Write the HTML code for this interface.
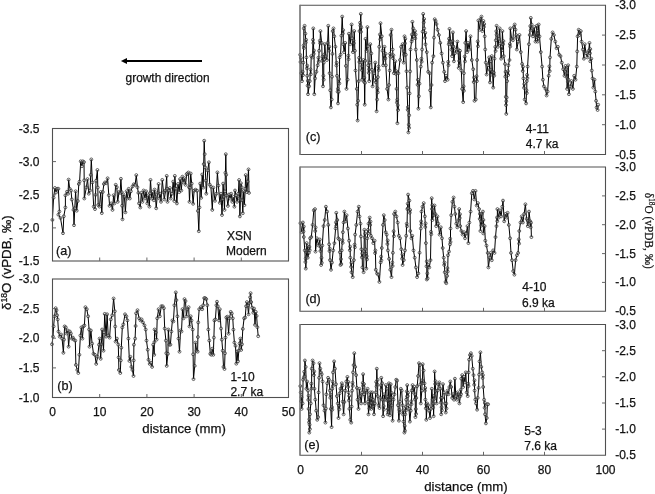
<!DOCTYPE html>
<html><head><meta charset="utf-8"><style>
html,body{margin:0;padding:0;background:#fff;width:655px;height:494px;overflow:hidden}
svg{display:block;will-change:transform;font-family:"Liberation Sans",sans-serif;fill:#1a1a1a}
text{fill:#111;stroke:#111;stroke-width:0.25px}
</style></head><body>
<svg width="655" height="494" viewBox="0 0 655 494">
<defs><marker id="m" markerUnits="userSpaceOnUse" markerWidth="5" markerHeight="5" refX="2.5" refY="2.5" overflow="visible"><circle cx="2.5" cy="2.5" r="1.45" fill="#fff" fill-opacity="0.25" stroke="#222" stroke-width="0.7"/></marker></defs>
<polyline points="52.4,219.9 53.6,197.7 54.9,188.0 56.1,192.4 57.3,188.8 58.4,188.8 59.4,211.5 58.4,214.7 60.5,218.0 63.0,233.2 63.8,216.3 65.4,207.4 65.4,195.3 67.0,191.7 68.1,193.7 68.6,179.6 69.7,188.8 71.0,190.5 71.8,199.4 73.5,209.9 74.0,225.2 74.8,208.2 75.6,191.3 76.7,210.7 77.8,201.0 78.8,184.0 79.6,181.6 80.7,161.3 81.9,166.2 82.8,161.3 84.0,162.1 84.2,180.3 84.3,198.5 86.4,187.2 87.5,179.1 88.8,193.7 90.1,190.5 90.7,174.9 91.3,159.4 92.4,182.4 93.7,206.6 95.0,209.1 95.5,194.9 96.1,180.7 97.4,170.0 97.8,187.5 98.2,205.0 99.5,206.6 100.7,192.0 101.8,213.1 102.8,192.0 103.9,184.0 105.0,182.4 106.3,183.2 107.6,178.3 108.8,195.3 109.6,205.8 111.2,203.4 112.5,209.9 113.6,195.3 114.4,203.4 115.7,184.8 116.8,187.2 117.7,201.8 119.0,192.1 120.1,192.9 120.9,178.8 121.7,192.1 122.1,205.7 122.5,219.3 123.3,194.5 124.4,196.9 125.4,212.3 126.6,191.3 127.4,198.5 128.7,188.8 129.8,198.5 130.9,191.3 132.5,186.4 133.8,184.3 135.1,184.8 136.3,175.1 137.4,187.2 138.4,192.9 139.0,203.4 140.3,207.5 141.3,192.9 142.4,201.8 143.6,190.5 144.9,198.5 146.1,191.3 147.3,203.4 148.4,195.3 149.4,206.6 149.9,193.2 150.5,179.9 151.7,198.5 152.6,192.1 153.8,200.2 154.6,189.6 155.5,196.9 156.2,208.3 157.5,192.9 158.6,184.0 159.4,198.5 160.2,193.7 161.0,201.8 162.3,179.9 163.5,192.1 164.3,199.4 165.6,190.5 166.7,175.9 167.1,188.9 167.5,201.8 168.8,190.5 169.9,188.0 170.7,198.5 172.0,193.7 173.2,181.6 174.3,201.0 174.6,188.4 174.8,175.9 175.9,188.8 176.9,203.4 178.0,184.0 179.2,192.1 180.1,179.1 181.3,190.5 182.4,176.7 183.4,182.4 184.5,178.3 185.6,184.8 186.6,174.3 187.4,173.5 188.5,172.5 189.0,187.2 189.5,201.8 190.1,187.7 190.7,173.5 191.7,183.6 193.1,203.8 194.1,190.7 195.5,189.7 197.1,190.7 197.9,210.9 198.8,231.2 199.5,207.4 200.2,183.6 201.2,197.8 202.2,174.5 203.2,187.6 203.7,164.1 204.2,140.7 204.7,154.1 205.2,167.4 205.8,180.6 206.3,193.7 207.7,170.4 208.9,162.3 209.7,184.6 210.9,186.6 212.3,209.9 213.3,187.6 215.0,200.8 216.4,193.7 217.4,172.4 218.4,185.6 219.8,202.8 221.0,193.7 222.0,215.0 222.6,199.3 223.1,183.6 223.8,196.8 224.5,209.9 224.9,191.3 225.4,172.8 225.8,154.2 226.2,174.8 226.6,195.3 227.9,205.9 229.0,194.5 230.2,198.6 231.2,193.7 232.3,201.8 233.4,197.0 234.4,206.7 235.0,190.5 236.0,195.3 237.1,201.8 238.3,193.7 239.1,180.0 239.5,198.2 239.9,216.4 240.4,199.8 240.9,183.2 241.7,187.2 242.2,200.2 242.8,213.2 243.6,191.3 244.4,205.1 245.2,188.9 245.7,175.1 246.9,192.1 247.7,181.6 248.5,169.4 249.0,192.9" fill="none" stroke="#000" stroke-width="1.0" stroke-linejoin="round" marker-start="url(#m)" marker-mid="url(#m)" marker-end="url(#m)"/>
<polyline points="52.0,344.3 53.0,336.6 53.6,326.4 54.5,316.3 55.7,308.2 56.5,310.2 57.1,315.3 57.7,319.4 58.5,331.5 59.7,336.6 61.1,334.5 62.1,338.6 63.4,352.8 64.0,339.6 64.6,326.4 65.8,327.4 66.6,333.5 67.8,330.5 68.6,346.7 69.8,331.5 70.9,333.5 71.9,338.6 72.9,337.6 73.9,339.6 75.3,340.6 75.9,364.9 77.3,370.0 78.3,373.0 79.4,354.8 80.4,335.5 81.4,327.4 82.4,338.6 83.4,326.4 84.4,325.4 85.4,307.2 86.8,309.2 88.1,316.3 89.1,329.5 89.5,346.7 90.9,330.5 92.1,343.6 93.5,353.8 94.9,354.8 96.2,363.9 97.6,356.8 99.0,344.7 99.6,338.6 100.7,358.8 101.4,344.1 102.1,329.5 103.5,350.7 104.1,332.3 104.7,313.9 106.1,336.6 107.1,314.3 108.2,335.5 109.6,337.6 110.8,319.4 112.2,315.3 113.6,298.5 114.8,311.3 115.2,326.5 115.6,341.6 116.9,338.6 118.3,344.7 118.6,357.4 118.9,370.0 120.3,373.0 120.8,360.4 121.3,347.7 122.3,327.4 123.3,324.4 125.0,314.3 126.4,316.3 127.4,320.4 128.4,338.6 129.4,360.9 130.4,356.8 131.4,366.9 132.4,370.0 133.5,376.0 133.7,360.4 133.9,344.7 135.1,338.6 135.6,326.0 136.1,313.3 137.5,310.2 139.1,318.3 140.5,320.4 141.6,319.4 143.0,322.4 144.5,325.4 145.7,329.5 146.5,340.6 147.7,349.7 148.5,359.8 149.7,363.9 151.1,362.9 152.1,366.9 153.2,344.7 154.2,354.8 154.4,342.1 154.6,329.5 155.8,332.5 156.6,339.6 157.2,318.3 158.6,309.2 159.8,316.3 161.3,306.2 162.7,306.2 163.9,308.2 164.7,328.5 165.9,340.6 166.3,353.2 166.7,365.9 167.9,353.8 168.3,329.5 169.4,344.7 170.4,344.7 171.4,331.5 172.4,320.4 173.4,321.4 174.4,305.2 175.8,292.4 176.4,300.1 177.4,316.3 178.5,338.6 179.5,351.7 180.5,330.5 181.5,331.5 182.5,309.2 183.5,318.3 184.5,299.1 185.5,301.1 186.4,316.3 187.4,309.2 188.6,307.2 189.5,326.4 190.7,316.3 191.5,320.4 192.7,329.5 193.1,354.3 193.5,379.1 194.7,365.9 195.5,342.6 196.7,350.7 197.6,351.7 197.9,337.0 198.2,322.4 199.2,309.2 200.8,307.2 202.2,309.2 203.2,305.2 204.2,298.1 205.2,298.1 206.3,299.1 207.3,305.2 208.3,329.5 209.3,340.6 210.3,353.8 211.3,354.8 212.3,348.7 213.3,354.8 213.9,337.6 214.4,320.4 215.4,319.4 216.4,305.2 217.0,301.7 217.8,306.2 219.0,320.4 219.8,309.2 221.0,328.5 221.8,339.6 222.7,350.7 223.5,366.9 224.5,369.0 225.0,353.3 225.5,337.6 226.3,317.5 227.4,316.7 228.6,333.7 229.5,318.3 230.7,311.9 231.8,313.5 232.8,318.3 233.4,329.7 234.4,342.6 235.5,345.9 236.3,363.7 237.1,351.5 238.0,361.3 238.8,350.7 239.6,343.4 240.4,338.6 241.2,349.9 242.0,344.3 242.8,328.9 244.1,318.3 245.2,317.5 246.1,306.2 246.9,302.1 247.7,305.4 248.5,314.3 249.3,303.0 250.1,297.3 250.6,293.2 251.2,302.1 252.2,307.8 253.3,312.7 254.1,308.6 255.0,324.8 255.8,311.9 256.6,315.9 257.4,327.2 258.2,336.2" fill="none" stroke="#000" stroke-width="1.0" stroke-linejoin="round" marker-start="url(#m)" marker-mid="url(#m)" marker-end="url(#m)"/>
<polyline points="300.1,54.7 300.5,62.0 300.8,57.9 301.2,73.2 302.0,81.1 302.7,71.7 303.0,75.1 303.3,62.6 303.6,45.4 303.9,48.0 303.8,28.4 304.6,25.8 305.4,33.7 305.8,42.5 306.1,39.8 306.4,57.4 306.9,68.4 307.2,65.6 307.2,75.8 307.6,85.7 307.9,80.8 308.0,94.2 309.1,86.3 309.8,81.1 310.5,69.4 310.8,74.3 311.2,56.1 312.5,57.4 313.0,39.8 313.3,43.0 313.3,28.4 313.7,53.8 314.0,50.5 314.3,94.2 315.1,78.4 316.4,71.8 317.7,65.3 318.4,57.7 318.7,61.8 319.1,50.8 319.8,40.7 320.1,43.3 320.4,31.1 321.7,42.9 322.2,60.8 322.5,56.6 323.0,86.3 323.4,75.8 323.7,79.7 323.8,62.6 324.2,54.5 324.5,59.0 324.8,44.2 325.6,56.1 326.9,60.0 327.6,42.9 328.3,25.8 329.0,50.6 329.3,46.7 329.6,73.2 330.2,90.3 330.9,107.4 331.7,99.5 332.0,76.7 332.4,53.9 332.7,31.1 333.5,28.4 334.3,36.3 335.4,46.8 336.4,65.5 336.7,62.7 337.0,75.8 337.6,91.7 337.9,88.8 338.0,103.4 338.8,91.6 339.1,79.2 339.4,83.4 339.6,57.4 340.6,54.7 341.4,35.7 342.2,16.6 342.9,33.5 343.2,30.2 343.3,44.2 344.1,52.1 345.2,42.9 345.9,65.9 346.5,88.9 347.6,79.7 348.3,55.6 348.6,59.2 348.9,33.7 350.3,44.2 351.6,24.5 352.2,38.3 352.9,52.1 353.6,40.6 353.9,43.2 354.2,31.1 354.9,50.8 355.5,70.5 356.8,88.9 357.2,104.7 357.6,120.5 358.1,100.8 358.7,81.1 359.1,57.8 359.4,62.0 359.5,31.1 360.1,22.7 360.4,25.6 360.8,13.9 361.0,31.8 361.3,27.4 361.3,62.6 361.6,69.9 361.9,66.4 362.1,79.7 363.4,60.0 364.0,81.7 364.3,77.8 364.7,104.7 365.0,82.8 365.2,60.8 365.5,38.9 366.6,50.8 367.4,27.1 367.8,46.2 368.2,65.3 368.7,72.8 369.0,69.4 369.2,81.1 369.8,62.6 370.3,44.2 371.3,53.4 372.0,69.8 372.6,86.3 373.9,73.2 375.3,62.6 375.8,82.2 376.1,79.1 376.6,111.3 377.1,99.5 377.5,88.4 377.8,92.4 377.9,77.1 378.4,66.5 378.7,70.0 379.2,46.8 379.9,34.5 380.2,39.4 380.5,23.2 381.8,36.3 382.5,50.8 383.2,65.3 383.9,55.4 384.2,59.6 384.5,46.8 385.3,58.3 385.6,53.8 385.8,65.3 387.1,88.9 388.4,99.5 389.0,85.0 389.7,70.5 390.1,53.8 390.4,56.6 390.6,35.0 391.5,29.7 392.6,49.5 393.1,58.3 393.4,55.3 393.9,73.2 395.3,61.3 395.9,73.8 396.2,71.1 396.6,88.9 396.9,102.5 397.2,99.7 397.4,123.2 397.8,105.3 398.1,110.0 398.4,73.2 400.0,60.0 401.1,46.8 402.6,44.2 403.7,62.6 404.0,51.4 404.3,54.8 404.5,36.3 405.0,43.4 405.3,38.8 405.8,54.7 406.5,71.2 407.1,87.6 407.7,109.8 408.0,107.1 408.4,132.4 408.8,124.7 409.1,127.8 409.2,115.3 409.6,93.4 410.1,71.4 410.5,49.5 411.6,41.6 411.9,34.5 412.2,39.4 412.4,21.8 413.2,28.4 414.2,36.3 415.0,31.1 415.3,38.3 415.6,34.5 415.8,49.5 416.8,60.0 417.6,84.8 417.9,79.8 418.4,108.7 418.9,96.2 419.5,83.7 420.8,66.6 421.4,58.7 421.7,61.7 422.1,49.5 422.6,31.7 423.2,13.9 423.8,22.4 424.1,19.0 424.2,28.4 425.0,37.8 425.3,32.8 425.5,44.2 426.8,52.1 428.2,71.8 429.5,73.2 430.1,90.3 430.8,107.4 431.5,85.0 432.1,62.6 433.4,56.1 434.0,37.6 434.7,19.2 435.6,21.0 436.5,24.0 437.6,29.7 438.9,35.0 440.3,42.9 441.6,53.4 442.9,62.6 444.2,71.8 445.0,81.1 446.1,75.8 447.6,79.7 448.2,61.8 448.5,65.2 448.7,44.2 449.0,38.7 449.3,41.9 449.5,28.9 450.8,41.6 451.5,49.7 451.8,44.8 452.1,56.1 452.6,41.1 452.9,46.1 452.9,32.4 453.4,46.8 453.9,61.3 454.7,53.4 456.1,49.5 457.4,41.6 457.9,52.5 458.2,49.5 458.7,67.9 459.2,60.9 459.5,64.9 460.0,50.8 461.3,70.5 462.1,88.9 463.2,102.1 463.6,86.3 463.9,90.8 463.9,73.2 464.7,56.6 465.0,61.4 465.3,42.9 466.1,31.1 467.1,52.1 467.9,42.9 469.2,49.5 470.5,36.3 471.8,60.0 473.2,69.2 473.7,82.0 474.0,77.5 474.5,100.8 475.8,99.5 476.6,76.2 476.9,81.1 477.1,60.0 477.7,41.4 478.0,46.3 478.4,20.5 479.7,29.7 480.6,19.0 481.5,16.6 482.4,31.1 483.4,21.0 483.9,26.9 484.2,24.1 484.7,36.3 485.2,49.5 485.8,62.6 486.6,74.5 487.9,65.3 489.2,57.4 489.6,69.9 490.0,82.4 490.7,69.8 491.0,74.7 491.1,61.3 491.8,56.1 492.5,71.8 493.2,87.6 493.9,72.7 494.2,75.6 494.5,58.7 495.3,46.9 495.6,51.0 495.8,40.3 496.3,31.2 496.6,34.7 496.6,25.8 497.9,46.8 498.9,38.9 499.7,28.4 500.4,43.5 501.1,58.7 501.7,47.0 502.0,50.2 502.4,31.1 503.1,44.2 503.4,41.1 503.7,56.1 505.0,63.9 505.3,76.7 505.6,71.9 505.8,96.8 506.0,105.1 506.3,101.2 506.3,113.9 506.7,97.5 507.1,81.1 507.9,71.2 508.2,75.0 508.4,65.3 509.5,60.0 509.9,44.0 510.2,46.5 510.3,28.4 511.6,38.9 512.9,40.3 513.7,27.1 514.7,24.5 515.5,29.7 516.0,37.7 516.3,35.2 516.8,49.5 518.2,41.6 519.5,35.0 520.8,52.1 522.1,63.9 522.7,71.0 523.0,66.7 523.4,78.4 524.0,87.8 524.3,84.1 524.7,99.5 526.1,103.4 526.5,90.3 526.8,93.1 526.8,81.1 527.1,74.9 527.4,78.1 527.6,66.6 528.9,44.2 529.7,35.0 530.3,26.1 530.6,30.5 530.8,17.9 531.6,24.5 532.9,36.3 534.2,27.1 535.5,41.6 536.2,33.2 536.5,36.9 536.8,25.8 537.2,34.6 537.5,31.0 537.6,41.6 538.1,33.2 538.4,38.0 538.7,24.5 539.5,36.3 540.8,52.1 542.1,66.6 542.9,79.7 543.9,86.3 545.5,88.9 546.6,95.5 547.6,91.6 548.7,75.8 549.4,66.3 549.7,71.1 550.0,57.4 551.3,38.9 552.6,32.4 553.9,35.0 555.3,41.6 556.6,48.2 557.9,46.8 559.2,54.7 560.5,56.1 561.8,62.6 563.2,69.2 564.5,75.8 565.4,66.0 566.3,69.2 566.6,76.8 566.9,73.2 567.1,88.9 567.6,78.9 567.9,81.6 568.2,65.3 568.5,79.8 568.9,94.2 570.3,86.3 571.6,81.1 572.9,88.9 574.2,75.8 575.5,79.7 576.8,66.6 577.2,51.4 577.6,36.3 578.7,29.7 579.5,35.0 580.8,31.1 581.6,41.6 582.9,49.5 583.9,58.7 584.7,44.2 586.1,53.4 587.4,57.4 588.7,50.8 589.5,42.9 590.0,53.3 590.3,49.1 590.3,61.3 591.3,58.7 591.8,70.5 592.6,78.4 593.4,87.6 594.5,79.7 595.3,91.6 596.1,100.8 596.6,107.4 597.6,110.0 598.2,104.7" fill="none" stroke="#000" stroke-width="1.0" stroke-linejoin="round" marker-start="url(#m)" marker-mid="url(#m)" marker-end="url(#m)"/>
<polyline points="300.4,223.2 301.6,232.2 302.9,222.5 303.5,231.4 303.8,226.5 303.8,237.0 304.8,250.4 305.4,262.0 305.7,258.5 305.8,268.6 306.4,252.1 306.7,256.7 306.7,243.1 307.2,250.1 307.5,246.3 307.7,257.7 308.9,252.8 309.4,246.9 309.7,250.2 310.1,238.3 311.3,237.0 312.6,224.9 313.8,210.3 315.0,209.1 315.3,231.0 315.6,227.4 315.5,251.6 316.9,238.3 318.6,245.5 319.8,239.5 320.4,251.0 320.7,246.9 321.1,265.0 321.5,257.8 321.8,262.8 322.3,245.5 323.5,226.1 324.7,220.0 325.9,206.7 327.1,211.6 328.3,224.9 329.1,244.3 329.5,251.1 329.8,248.5 330.0,260.1 331.0,269.8 332.0,262.5 333.2,250.4 334.4,243.1 335.6,228.5 335.9,222.4 336.2,226.0 336.3,212.8 337.3,220.0 338.3,238.3 339.3,239.5 339.9,252.2 340.5,265.0 341.0,259.2 341.3,264.0 341.7,250.4 342.4,240.2 342.7,242.9 342.9,232.2 343.6,222.5 344.4,211.6 345.4,221.3 346.6,215.2 347.9,228.5 349.1,240.7 349.8,250.2 350.1,246.6 350.3,257.7 351.1,266.9 351.4,262.8 351.5,272.2 352.7,277.1 353.9,260.1 354.6,244.6 354.9,247.3 355.1,234.6 356.3,224.9 357.6,211.6 358.8,206.7 359.5,216.4 360.5,223.7 360.9,236.4 361.4,249.2 361.9,257.4 362.2,253.5 362.4,267.4 363.6,272.2 364.0,251.0 364.4,229.8 364.7,237.3 365.0,233.5 365.3,249.2 365.7,256.6 366.0,253.7 366.3,268.6 366.7,256.2 367.0,259.4 367.3,238.3 368.0,229.9 368.3,233.1 368.5,223.7 369.7,217.6 370.2,224.9 370.5,221.6 370.9,235.8 372.1,238.3 373.3,243.1 374.6,240.7 375.1,253.1 375.4,250.5 375.8,269.8 377.0,273.4 378.2,274.7 379.4,281.9 380.6,262.5 381.1,256.6 381.4,260.3 381.8,248.0 383.0,224.9 383.8,215.2 384.7,220.0 385.7,232.2 386.7,234.6 387.4,244.0 387.7,240.4 387.9,250.4 389.1,258.9 390.3,269.8 391.5,277.1 392.3,262.5 392.6,266.0 392.9,252.8 393.6,231.2 393.9,236.2 394.1,214.0 395.3,211.6 396.5,216.4 397.7,222.5 398.9,235.8 400.1,238.3 401.3,249.2 402.1,258.7 402.4,254.4 402.6,265.0 403.8,260.1 405.0,250.4 406.2,235.8 406.7,223.7 407.0,226.3 407.4,209.1 407.7,203.7 408.0,208.1 408.1,194.6 409.4,200.6 409.8,212.7 410.1,210.0 410.3,231.0 411.5,238.3 412.3,235.8 413.5,250.4 414.7,257.7 415.9,267.4 417.1,277.1 418.3,273.4 419.6,252.8 420.8,228.5 421.1,221.4 421.4,224.6 421.5,211.6 422.5,206.7 423.7,203.1 424.9,216.4 425.3,227.0 425.6,223.4 425.9,243.1 426.5,266.3 426.8,261.4 426.8,279.5 427.3,273.4 427.6,278.3 428.0,265.0 429.3,267.4 430.5,260.1 431.0,231.8 431.3,234.3 431.7,198.2 432.0,208.9 432.3,205.2 432.4,220.0 433.6,215.2 434.5,205.5 435.4,214.0 436.2,226.1 437.4,216.4 438.3,223.7 439.6,234.6 440.8,227.3 442.0,238.3 442.7,248.0 443.7,257.7 444.2,265.0 444.5,262.5 444.7,272.2 445.6,281.9 446.3,283.2 447.1,275.9 447.4,268.1 447.7,271.6 448.0,255.2 449.0,251.6 450.0,244.3 450.2,238.7 450.5,241.9 450.5,228.5 451.2,215.2 452.4,201.8 453.6,197.5 454.4,206.7 455.3,214.0 456.3,223.7 457.3,227.3 458.5,220.0 459.2,209.1 459.7,218.0 460.0,214.2 460.2,226.1 461.4,231.0 462.6,234.6 464.1,232.2 465.0,238.3 466.3,233.4 467.5,226.1 468.4,243.1 469.4,222.5 470.6,211.6 471.8,193.3 473.0,190.9 474.3,199.4 475.5,190.9 476.7,205.5 477.9,203.1 479.1,209.1 479.7,218.9 480.0,213.9 480.4,231.0 481.1,221.4 481.4,225.5 481.6,214.0 482.9,211.6 483.1,224.7 483.4,220.0 483.3,233.4 484.6,226.1 485.3,240.7 486.5,245.6 487.7,252.9 488.4,267.4 489.7,257.7 490.6,252.9 491.8,260.2 493.1,250.4 494.5,252.9 495.5,237.1 496.5,226.1 497.0,217.5 497.3,221.2 497.4,209.1 498.6,217.6 499.9,210.4 501.1,216.4 502.3,206.7 503.0,200.6 504.2,221.3 505.4,214.0 506.7,217.6 507.6,212.8 508.8,224.9 510.1,238.3 511.0,252.9 512.0,260.2 513.2,271.1 514.4,274.7 515.6,260.2 516.9,255.3 518.1,252.9 518.8,239.4 519.1,243.6 519.3,231.0 520.5,222.5 521.7,216.4 522.9,222.5 524.1,214.0 525.4,204.3 526.6,218.9 527.8,226.1 528.2,220.9 528.5,223.7 529.0,211.6 530.2,221.3 530.7,227.3 531.0,222.7 531.4,237.1" fill="none" stroke="#000" stroke-width="1.0" stroke-linejoin="round" marker-start="url(#m)" marker-mid="url(#m)" marker-end="url(#m)"/>
<polyline points="300.3,386.1 300.7,392.4 301.2,401.3 301.5,397.2 301.6,408.9 302.6,403.4 303.1,379.7 303.8,377.8 304.2,371.7 304.5,376.2 304.9,360.5 305.7,366.9 306.4,388.8 307.1,381.5 308.0,390.6 308.3,399.9 308.6,395.8 308.6,408.9 309.0,422.4 309.3,419.3 309.3,432.6 309.6,424.7 309.9,429.1 310.0,414.3 310.8,403.4 311.3,383.6 311.6,388.5 311.7,368.7 312.6,360.5 313.5,363.2 313.9,375.1 314.2,371.4 314.4,388.8 315.3,399.7 316.2,410.7 317.2,419.8 318.1,417.1 318.6,392.4 319.1,377.8 319.5,363.2 320.3,368.7 321.0,372.4 321.7,374.2 322.6,381.5 323.5,405.2 324.5,410.7 325.4,422.6 325.9,408.5 326.3,394.3 327.2,383.3 328.1,377.8 329.0,379.7 329.9,390.6 330.3,397.8 330.6,394.7 330.8,408.9 331.6,427.1 332.0,407.2 332.3,409.7 332.3,388.8 332.6,381.7 332.9,385.9 333.0,372.4 334.1,361.4 335.0,368.7 336.0,384.2 336.9,396.1 337.8,403.4 338.5,418.0 339.1,405.6 339.4,409.2 339.6,393.4 340.5,388.8 341.8,383.3 342.1,390.4 342.4,385.6 342.7,401.6 343.6,414.3 344.4,402.0 345.3,390.6 346.3,381.5 347.4,376.9 348.1,386.9 348.4,382.0 348.5,392.4 348.9,400.4 349.2,395.9 349.4,408.9 350.3,419.8 351.2,422.6 351.6,406.6 352.1,390.6 352.5,382.8 352.8,385.8 353.0,372.4 353.6,365.1 354.3,353.2 355.2,366.9 356.1,375.1 356.9,387.9 357.6,399.7 358.5,408.9 359.4,388.8 360.3,396.1 361.2,403.4 362.2,392.4 362.7,382.9 363.0,385.7 363.1,374.2 363.7,387.0 364.0,384.1 364.0,394.3 364.9,403.4 365.8,390.6 366.7,392.4 367.6,388.8 368.1,401.6 368.5,414.3 369.1,404.2 369.4,408.5 369.5,397.9 370.4,392.4 371.0,402.6 371.3,398.9 371.3,408.9 371.6,403.1 371.9,406.8 372.2,392.4 373.1,399.7 373.5,406.1 373.8,403.3 374.0,414.3 374.9,403.4 375.8,392.4 376.2,381.9 376.5,386.5 376.8,368.7 377.3,384.5 377.6,379.9 377.7,396.1 378.6,405.2 379.5,408.0 380.4,397.9 381.0,385.3 381.3,389.6 381.3,377.8 382.2,383.3 382.6,399.8 383.1,416.2 383.6,406.1 383.9,409.6 384.1,394.3 385.0,399.7 385.9,385.1 386.8,388.8 387.2,400.5 387.5,396.9 387.7,414.3 387.9,409.0 388.2,411.7 388.3,399.7 388.9,383.3 389.5,403.5 389.8,400.4 389.8,415.3 390.3,399.6 390.6,402.6 390.7,384.2 391.3,397.6 391.6,392.9 391.6,405.2 392.6,420.7 393.5,399.7 394.4,394.3 395.3,387.0 396.2,379.7 397.1,380.6 398.0,405.2 398.9,420.7 399.5,409.9 399.8,412.5 399.9,401.6 400.8,388.8 401.7,390.6 402.6,405.2 403.1,414.6 403.4,410.5 403.5,421.6 404.4,432.6 404.7,425.9 405.0,430.7 405.3,414.3 405.7,407.1 406.0,410.5 406.2,399.7 406.8,391.4 407.1,396.3 407.2,385.1 407.7,396.1 408.0,392.8 408.1,405.2 409.0,408.9 409.9,421.6 410.8,410.7 411.2,401.3 411.5,404.2 411.7,390.6 412.6,385.1 413.5,392.4 414.5,387.0 414.9,399.4 415.2,394.6 415.4,417.1 415.8,409.1 416.1,413.9 416.3,397.9 417.2,386.1 418.1,376.0 419.0,363.2 419.9,365.1 420.4,384.2 420.8,403.4 421.8,390.6 422.2,380.3 422.5,383.2 422.7,364.2 423.6,370.5 424.5,383.3 424.9,390.7 425.2,388.0 425.4,399.7 425.8,408.3 426.1,404.4 426.3,419.8 427.2,403.4 428.1,405.2 429.1,410.7 430.0,418.0 430.9,408.9 431.8,388.8 432.7,399.7 433.1,407.5 433.4,403.7 433.6,416.2 434.1,396.0 434.4,398.7 434.6,371.5 435.2,384.0 435.5,381.2 435.6,391.0 436.6,403.4 437.6,390.6 438.5,384.2 439.4,382.4 440.3,388.8 440.8,402.5 441.1,397.9 441.2,414.3 441.6,407.2 441.9,410.3 442.1,397.9 443.0,384.2 443.9,392.4 444.9,403.4 445.8,412.5 446.2,403.6 446.5,408.5 446.7,394.2 447.6,390.6 448.5,394.2 449.4,387.0 450.3,381.5 451.2,387.0 452.2,397.9 453.1,394.2 454.0,399.7 454.9,378.7 455.8,396.1 456.7,399.7 457.6,392.4 458.5,394.2 459.4,403.4 460.4,396.1 460.7,389.8 461.0,394.1 461.3,378.7 462.2,375.1 463.1,387.0 464.0,376.9 464.9,382.4 465.8,372.4 466.7,392.4 467.7,396.1 468.2,383.6 468.5,386.1 468.6,372.4 469.1,359.6 470.0,355.0 470.9,353.2 471.7,355.9 472.8,368.7 473.5,375.1 474.2,384.8 474.5,380.3 474.6,390.6 475.3,399.7 476.0,403.4 477.1,409.7 477.7,397.9 478.6,387.9 479.1,374.6 479.5,361.4 480.4,352.3 481.3,366.9 482.2,372.4 482.6,378.0 482.9,375.1 483.2,387.0 484.1,399.7 484.6,407.8 484.9,402.9 485.0,414.3 485.9,423.4 486.8,418.0 487.4,404.3 488.1,404.3" fill="none" stroke="#000" stroke-width="1.0" stroke-linejoin="round" marker-start="url(#m)" marker-mid="url(#m)" marker-end="url(#m)"/>
<rect x="52.5" y="128.5" width="236.0" height="132.5" fill="none" stroke="#505050" stroke-width="1.1"/>
<text x="39.5" y="132.5" text-anchor="end" font-size="12">-3.5</text>
<line x1="52.5" y1="161.6" x2="56.0" y2="161.6" stroke="#666" stroke-width="1"/>
<text x="39.5" y="165.6" text-anchor="end" font-size="12">-3.0</text>
<line x1="52.5" y1="194.8" x2="56.0" y2="194.8" stroke="#666" stroke-width="1"/>
<text x="39.5" y="198.8" text-anchor="end" font-size="12">-2.5</text>
<line x1="52.5" y1="227.9" x2="56.0" y2="227.9" stroke="#666" stroke-width="1"/>
<text x="39.5" y="231.9" text-anchor="end" font-size="12">-2.0</text>
<text x="39.5" y="265.0" text-anchor="end" font-size="12">-1.5</text>
<line x1="99.7" y1="261.0" x2="99.7" y2="257.5" stroke="#666" stroke-width="1"/>
<line x1="146.9" y1="261.0" x2="146.9" y2="257.5" stroke="#666" stroke-width="1"/>
<line x1="194.1" y1="261.0" x2="194.1" y2="257.5" stroke="#666" stroke-width="1"/>
<line x1="241.3" y1="261.0" x2="241.3" y2="257.5" stroke="#666" stroke-width="1"/>
<rect x="52.5" y="279.0" width="236.0" height="118.5" fill="none" stroke="#505050" stroke-width="1.1"/>
<text x="39.5" y="283.0" text-anchor="end" font-size="12">-3.0</text>
<line x1="52.5" y1="308.6" x2="56.0" y2="308.6" stroke="#666" stroke-width="1"/>
<text x="39.5" y="312.6" text-anchor="end" font-size="12">-2.5</text>
<line x1="52.5" y1="338.2" x2="56.0" y2="338.2" stroke="#666" stroke-width="1"/>
<text x="39.5" y="342.2" text-anchor="end" font-size="12">-2.0</text>
<line x1="52.5" y1="367.9" x2="56.0" y2="367.9" stroke="#666" stroke-width="1"/>
<text x="39.5" y="371.9" text-anchor="end" font-size="12">-1.5</text>
<text x="39.5" y="401.5" text-anchor="end" font-size="12">-1.0</text>
<line x1="99.7" y1="397.5" x2="99.7" y2="394.0" stroke="#666" stroke-width="1"/>
<line x1="146.9" y1="397.5" x2="146.9" y2="394.0" stroke="#666" stroke-width="1"/>
<line x1="194.1" y1="397.5" x2="194.1" y2="394.0" stroke="#666" stroke-width="1"/>
<line x1="241.3" y1="397.5" x2="241.3" y2="394.0" stroke="#666" stroke-width="1"/>
<path d="M300.2 5.3H605.5V154.5H300.2" fill="none" stroke="#505050" stroke-width="1.1"/>
<line x1="300.0" y1="4.8" x2="300.0" y2="155.0" stroke="#6a6a6a" stroke-width="1.5"/>
<text x="615.2" y="9.3" font-size="12">-3.0</text>
<line x1="605.5" y1="35.1" x2="602.0" y2="35.1" stroke="#666" stroke-width="1"/>
<text x="615.2" y="39.1" font-size="12">-2.5</text>
<line x1="605.5" y1="65.0" x2="602.0" y2="65.0" stroke="#666" stroke-width="1"/>
<text x="615.2" y="69.0" font-size="12">-2.0</text>
<line x1="605.5" y1="94.8" x2="602.0" y2="94.8" stroke="#666" stroke-width="1"/>
<text x="615.2" y="98.8" font-size="12">-1.5</text>
<line x1="605.5" y1="124.7" x2="602.0" y2="124.7" stroke="#666" stroke-width="1"/>
<text x="615.2" y="128.7" font-size="12">-1.0</text>
<text x="615.2" y="158.5" font-size="12">-0.5</text>
<line x1="361.5" y1="154.5" x2="361.5" y2="151.0" stroke="#666" stroke-width="1"/>
<line x1="422.5" y1="154.5" x2="422.5" y2="151.0" stroke="#666" stroke-width="1"/>
<line x1="483.5" y1="154.5" x2="483.5" y2="151.0" stroke="#666" stroke-width="1"/>
<line x1="544.5" y1="154.5" x2="544.5" y2="151.0" stroke="#666" stroke-width="1"/>
<path d="M300.2 167.0H605.5V311.3H300.2" fill="none" stroke="#505050" stroke-width="1.1"/>
<line x1="300.0" y1="166.5" x2="300.0" y2="311.8" stroke="#6a6a6a" stroke-width="1.5"/>
<text x="615.2" y="171.0" font-size="12">-3.0</text>
<line x1="605.5" y1="195.9" x2="602.0" y2="195.9" stroke="#666" stroke-width="1"/>
<text x="615.2" y="199.9" font-size="12">-2.5</text>
<line x1="605.5" y1="224.7" x2="602.0" y2="224.7" stroke="#666" stroke-width="1"/>
<text x="615.2" y="228.7" font-size="12">-2.0</text>
<line x1="605.5" y1="253.6" x2="602.0" y2="253.6" stroke="#666" stroke-width="1"/>
<text x="615.2" y="257.6" font-size="12">-1.5</text>
<line x1="605.5" y1="282.4" x2="602.0" y2="282.4" stroke="#666" stroke-width="1"/>
<text x="615.2" y="286.4" font-size="12">-1.0</text>
<text x="615.2" y="315.3" font-size="12">-0.5</text>
<line x1="361.5" y1="311.3" x2="361.5" y2="307.8" stroke="#666" stroke-width="1"/>
<line x1="422.5" y1="311.3" x2="422.5" y2="307.8" stroke="#666" stroke-width="1"/>
<line x1="483.5" y1="311.3" x2="483.5" y2="307.8" stroke="#666" stroke-width="1"/>
<line x1="544.5" y1="311.3" x2="544.5" y2="307.8" stroke="#666" stroke-width="1"/>
<path d="M300.2 324.5H605.5V455.3H300.2" fill="none" stroke="#505050" stroke-width="1.1"/>
<line x1="300.0" y1="324.0" x2="300.0" y2="455.8" stroke="#6a6a6a" stroke-width="1.5"/>
<text x="615.2" y="328.5" font-size="12">-3.0</text>
<line x1="605.5" y1="350.7" x2="602.0" y2="350.7" stroke="#666" stroke-width="1"/>
<text x="615.2" y="354.7" font-size="12">-2.5</text>
<line x1="605.5" y1="376.8" x2="602.0" y2="376.8" stroke="#666" stroke-width="1"/>
<text x="615.2" y="380.8" font-size="12">-2.0</text>
<line x1="605.5" y1="403.0" x2="602.0" y2="403.0" stroke="#666" stroke-width="1"/>
<text x="615.2" y="407.0" font-size="12">-1.5</text>
<line x1="605.5" y1="429.1" x2="602.0" y2="429.1" stroke="#666" stroke-width="1"/>
<text x="615.2" y="433.1" font-size="12">-1.0</text>
<text x="615.2" y="459.3" font-size="12">-0.5</text>
<line x1="361.5" y1="455.3" x2="361.5" y2="451.8" stroke="#666" stroke-width="1"/>
<line x1="422.5" y1="455.3" x2="422.5" y2="451.8" stroke="#666" stroke-width="1"/>
<line x1="483.5" y1="455.3" x2="483.5" y2="451.8" stroke="#666" stroke-width="1"/>
<line x1="544.5" y1="455.3" x2="544.5" y2="451.8" stroke="#666" stroke-width="1"/>
<text x="52.5" y="416.2" text-anchor="middle" font-size="12">0</text>
<text x="99.7" y="416.2" text-anchor="middle" font-size="12">10</text>
<text x="146.9" y="416.2" text-anchor="middle" font-size="12">20</text>
<text x="194.1" y="416.2" text-anchor="middle" font-size="12">30</text>
<text x="241.3" y="416.2" text-anchor="middle" font-size="12">40</text>
<text x="288.5" y="416.2" text-anchor="middle" font-size="12">50</text>
<text x="300.5" y="474.0" text-anchor="middle" font-size="12">0</text>
<text x="361.5" y="474.0" text-anchor="middle" font-size="12">20</text>
<text x="422.5" y="474.0" text-anchor="middle" font-size="12">40</text>
<text x="483.5" y="474.0" text-anchor="middle" font-size="12">60</text>
<text x="544.5" y="474.0" text-anchor="middle" font-size="12">80</text>
<text x="605.5" y="474.0" text-anchor="middle" font-size="12">100</text>
<text x="142.3" y="433.4" font-size="13.2">distance (mm)</text>
<text x="424.2" y="491.3" font-size="13.2">distance (mm)</text>
<text x="125.6" y="82" font-size="11.9">growth direction</text>
<line x1="202" y1="61" x2="126" y2="61" stroke="#000" stroke-width="2"/>
<path d="M120.9 61 L127 57.9 L127 64.1 Z" fill="#000"/>
<text x="56.1" y="255.1" font-size="12.6">(a)</text>
<text x="57.3" y="390.1" font-size="12.6">(b)</text>
<text x="305.8" y="141.2" font-size="12.6">(c)</text>
<text x="305.4" y="303.3" font-size="12.6">(d)</text>
<text x="304.2" y="449.1" font-size="12.6">(e)</text>
<text x="227" y="240.3" font-size="12">XSN</text>
<text x="226" y="255" font-size="12">Modern</text>
<text x="230.6" y="381" font-size="12">1-10</text>
<text x="230.4" y="395.5" font-size="12">2.7 ka</text>
<text x="525.8" y="132.8" font-size="12">4-11</text>
<text x="525.8" y="148" font-size="12">4.7 ka</text>
<text x="522.3" y="291.4" font-size="12">4-10</text>
<text x="522" y="306.6" font-size="12">6.9 ka</text>
<text x="524.3" y="435" font-size="12">5-3</text>
<text x="524.3" y="450" font-size="12">7.6 ka</text>
<text transform="translate(11,310) rotate(-90)" font-size="13.3">δ<tspan font-size="8.7" dy="-4.5">18</tspan><tspan dy="4.5">O (vPDB, ‰)</tspan></text>
<text transform="translate(644.6,192.8) rotate(90) scale(0.84,1)" font-size="13.5" font-family="Liberation Serif">δ<tspan font-size="8.8" dy="-4.3">18</tspan><tspan dy="4.3">O (vPDB, ‰)</tspan></text>
</svg></body></html>
